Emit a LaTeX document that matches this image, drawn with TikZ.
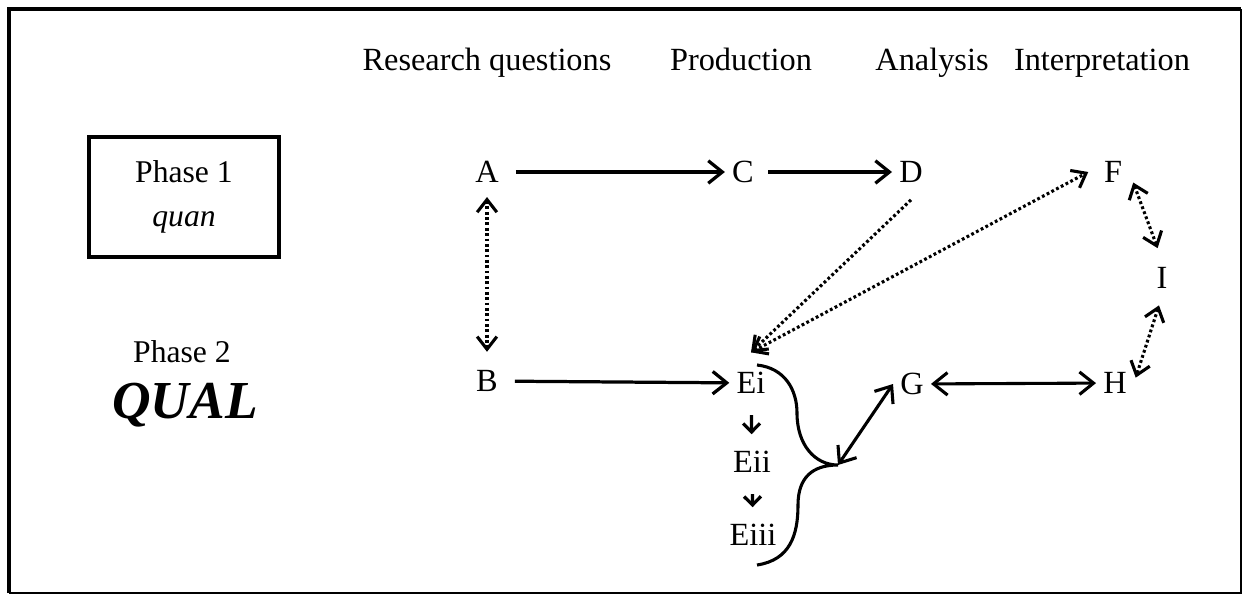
\documentclass[tikz,border=0pt]{standalone}
\usepackage{fontspec}
\setmainfont{Liberation Serif}
\usetikzlibrary{arrows.meta}

\begin{document}
\begin{tikzpicture}[x=0.025cm,y=-0.025cm,inner sep=5pt,
  lbl/.style={font=\fontsize{23}{27}\selectfont,text height=15.2pt,text depth=0pt},
  hdr/.style={font=\fontsize{23}{27}\selectfont,anchor=base,inner sep=0pt},
  solidarrow/.style={line width=2.3pt,-{Straight Barb[length=10pt,width=16pt]}},
  bothsolid/.style={line width=2.2pt,{Straight Barb[length=10pt,width=16pt]}-{Straight Barb[length=10pt,width=16pt]}},
  dotarrow/.style={line width=2.2pt,dash pattern=on 2pt off 1.8pt,-{Straight Barb[length=9pt,width=14pt]}},
  bothdot/.style={line width=2.2pt,dash pattern=on 2pt off 1.8pt,{Straight Barb[length=9pt,width=14pt]}-{Straight Barb[length=9pt,width=14pt]}},
  steparrow/.style={line width=2.3pt,-{Straight Barb[length=6pt,width=12pt]},shorten <=10pt,shorten >=7pt}]
\useasboundingbox (0,0) rectangle (1243,595);
\draw[line width=3.5pt] (9,593) -- (9,9) -- (1241,9);
\draw[line width=1.9pt] (9,593) -- (1241,593) -- (1241,9);
% column headers
\node[hdr] (rq) at (487,70) {Research questions};
\node[hdr] (prod) at (741,70) {Production};
\node[hdr] (anal) at (932,70) {Analysis};
\node[hdr] (interp) at (1102,70) {Interpretation};
% phases
\node[draw,line width=2.8pt,minimum width=135pt,minimum height=85pt,align=center,font=\fontsize{22.5}{27}\selectfont] (phaseone) at (184,197) {Phase 1\\[4pt]\textit{quan}};
\node[font=\fontsize{22.5}{26}\selectfont] (phasetwo) at (182,352) {Phase 2};
\node[font=\fontsize{38}{40}\selectfont\bfseries\itshape] (qual) at (185,405) {QUAL};
% steps
\node[lbl] (A) at (487,172) {A};
\node[lbl] (C) at (743,172) {C};
\node[lbl] (D) at (911,172) {D};
\node[lbl] (F) at (1113,172) {F};
\node[lbl] (I) at (1162,278) {I};
\node[lbl] (B) at (487,381) {B};
\node[lbl] (Ei) at (751,383) {Ei};
\node[lbl] (G) at (912,384) {G};
\node[lbl] (H) at (1115,383) {H};
\node[lbl] (Eii) at (752,462) {Eii};
\node[lbl] (Eiii) at (753,535) {Eiii};
\coordinate (Btip) at (838,465);
% brace round the E steps
\draw[line width=2.2pt] (757,365) .. controls (785,368) and (797,390) .. (797,413)
  .. controls (797,445) and (815,465) .. (Btip)
  .. controls (812,465) and (798,478) .. (798,505)
  .. controls (798,535) and (790,560) .. (757,565);
\path (A) edge[solidarrow,shorten <=7pt] (C);
\path (C) edge[solidarrow,shorten <=5pt] (D);
\path (B) edge[solidarrow,shorten <=7pt] (Ei);
\path (G) edge[bothsolid] (H);
\path (Btip) edge[bothsolid] (G.west);
\path (Ei) edge[steparrow] (Eii);
\path (Eii) edge[steparrow] (Eiii);
\path (A) edge[bothdot,shorten <=5pt,shorten >=8pt] (B);
\path ([yshift=-7pt]D.south) edge[dotarrow] ([yshift=9pt]Ei.north);
\path ([yshift=9pt]Ei.north) edge[bothdot] ([xshift=-6pt]F.west);
\path (F.east) edge[bothdot,shorten <=8pt,shorten >=9pt] (I.north);
\path (I.south) edge[bothdot,shorten <=7pt,shorten >=4pt] (H.east);
\end{tikzpicture}
\end{document}
